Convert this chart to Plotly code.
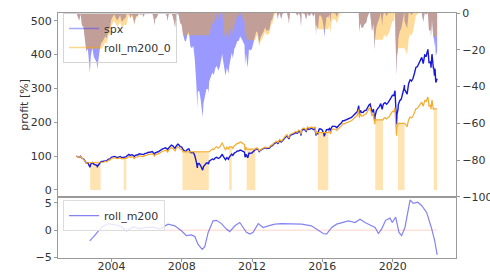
import plotly.graph_objects as go

# ---------------- data ----------------
dates = [
    "2002-01-02","2002-01-28","2002-02-28","2002-03-28","2002-04-28","2002-05-28","2002-06-28","2002-07-28","2002-08-28","2002-09-28","2002-10-09","2002-10-28","2002-11-28","2002-12-28",
    "2003-01-28","2003-02-28","2003-03-11","2003-03-28","2003-04-28","2003-05-18","2003-05-28","2003-06-28","2003-07-28","2003-08-28","2003-09-28","2003-10-28","2003-11-28","2003-12-28",
    "2004-01-28","2004-02-28","2004-03-28","2004-04-28","2004-05-28","2004-06-28","2004-07-28","2004-08-28","2004-09-12","2004-09-28","2004-10-28","2004-11-03","2004-11-28","2004-12-28",
    "2005-01-28","2005-02-28","2005-03-28","2005-04-20","2005-04-28","2005-05-28","2005-06-28","2005-07-28","2005-08-28","2005-09-28","2005-10-28","2005-11-28","2005-12-28",
    "2006-01-28","2006-02-28","2006-03-28","2006-04-28","2006-05-28","2006-06-13","2006-06-28","2006-07-28","2006-08-28","2006-09-28","2006-10-28","2006-11-28","2006-12-28",
    "2007-01-28","2007-02-28","2007-03-14","2007-03-28","2007-04-28","2007-05-28","2007-06-28","2007-07-28","2007-08-15","2007-08-28","2007-09-28","2007-10-09","2007-10-28","2007-11-28","2007-12-28",
    "2008-01-15","2008-01-28","2008-02-28","2008-03-28","2008-04-28","2008-05-28","2008-06-28","2008-07-28","2008-08-28","2008-09-28","2008-10-28","2008-11-20","2008-11-28","2008-12-28",
    "2009-01-28","2009-02-28","2009-03-09","2009-03-28","2009-04-28","2009-05-28","2009-06-28","2009-07-10","2009-07-24","2009-07-28","2009-08-28","2009-09-28","2009-10-28","2009-11-28","2009-12-28",
    "2010-01-28","2010-02-28","2010-03-28","2010-04-23","2010-04-28","2010-05-28","2010-06-28","2010-07-28","2010-08-28","2010-09-12","2010-09-28","2010-10-28","2010-11-05","2010-11-28","2010-12-28",
    "2011-01-28","2011-02-28","2011-03-28","2011-04-28","2011-05-28","2011-06-28","2011-07-28","2011-08-08","2011-08-28","2011-09-12","2011-09-28","2011-10-03","2011-10-28","2011-11-28","2011-12-28",
    "2012-01-28","2012-02-28","2012-03-08","2012-03-28","2012-04-28","2012-05-28","2012-06-28","2012-07-28","2012-08-28","2012-09-28","2012-10-28","2012-11-28","2012-12-28",
    "2013-01-28","2013-02-28","2013-03-28","2013-04-28","2013-05-28","2013-06-24","2013-06-28","2013-07-28","2013-08-28","2013-09-28","2013-10-28","2013-11-28","2013-12-28",
    "2014-01-28","2014-02-03","2014-02-28","2014-03-28","2014-04-28","2014-05-28","2014-06-28","2014-07-28","2014-08-28","2014-09-28","2014-10-15","2014-10-28","2014-11-28","2014-12-28",
    "2015-01-28","2015-02-28","2015-03-28","2015-04-28","2015-05-28","2015-06-28","2015-07-28","2015-08-25","2015-08-28","2015-09-28","2015-10-28","2015-11-28","2015-12-28",
    "2016-01-28","2016-02-11","2016-02-28","2016-03-28","2016-04-28","2016-05-04","2016-05-28","2016-06-27","2016-06-30","2016-07-28","2016-08-28","2016-09-28","2016-10-28","2016-11-28","2016-12-28",
    "2017-01-28","2017-02-28","2017-03-28","2017-04-28","2017-05-28","2017-06-28","2017-07-28","2017-08-28","2017-09-28","2017-10-28","2017-11-28","2017-12-28",
    "2018-01-26","2018-02-08","2018-02-28","2018-03-28","2018-04-28","2018-05-28","2018-06-28","2018-07-28","2018-08-28","2018-09-20","2018-10-29","2018-11-28","2018-12-24","2018-12-31",
    "2019-01-28","2019-02-28","2019-03-28","2019-04-28","2019-05-28","2019-06-14","2019-06-28","2019-07-28","2019-08-28","2019-09-28","2019-10-28","2019-11-28","2019-12-28",
    "2020-01-28","2020-02-19","2020-02-28","2020-03-23","2020-03-31","2020-04-21","2020-04-28","2020-05-28","2020-06-28","2020-07-28","2020-08-28","2020-09-02","2020-09-04","2020-09-28","2020-10-28","2020-11-28","2020-12-28",
    "2021-01-28","2021-02-28","2021-03-28","2021-04-28","2021-05-28","2021-06-28","2021-07-28","2021-08-28","2021-09-28","2021-10-28","2021-11-28","2021-12-28",
    "2022-01-03","2022-01-27","2022-02-28","2022-03-08","2022-03-29","2022-04-28","2022-05-03","2022-05-20","2022-05-31","2022-06-16","2022-06-30","2022-07-14",
]

spx = [
    100.0,97.9,95.9,99.4,93.2,92.5,85.8,79.0,80.5,70.6,67.3,76.7,81.1,76.3,
    74.2,72.9,69.3,73.5,79.5,82.0,83.5,84.5,85.8,87.3,86.3,91.1,91.7,96.4,
    98.0,99.2,97.6,95.9,97.1,98.9,95.5,95.7,97.0,96.6,97.9,99.0,101.7,105.0,
    102.3,104.3,102.3,98.6,100.3,103.3,103.2,106.9,105.7,106.5,104.6,108.2,108.1,
    110.9,111.0,112.2,113.6,110.1,106.0,110.1,110.7,113.0,115.8,119.4,121.4,122.9,
    124.6,121.9,119.0,123.1,128.4,132.7,130.2,126.1,122.1,127.7,132.3,135.6,134.2,128.3,127.2,
    119.6,119.5,115.3,114.6,120.1,121.3,110.9,109.8,111.2,101.0,84.0,65.2,77.6,78.2,
    71.6,63.7,58.7,69.2,75.6,79.6,79.6,76.5,85.0,85.5,88.5,91.6,89.8,95.0,96.6,
    93.1,95.7,101.3,105.5,102.9,94.4,89.3,95.5,90.9,96.2,98.9,102.5,106.2,102.3,109.0,
    111.4,115.0,114.9,118.2,116.6,114.5,112.0,97.0,105.6,100.7,98.0,95.2,108.6,108.1,109.0,
    113.7,118.4,118.4,122.0,121.1,113.5,118.0,119.5,121.9,124.9,122.4,122.7,123.6,
    129.8,131.3,136.0,138.5,141.3,136.3,139.2,146.1,141.5,145.8,152.3,156.5,160.1,
    154.5,150.9,161.1,162.2,163.3,166.7,169.8,167.3,173.6,170.9,161.0,174.9,179.2,178.4,
    172.9,182.4,179.2,180.8,182.6,178.8,182.3,161.0,170.9,166.4,180.2,180.2,177.1,
    168.1,158.3,167.4,178.5,178.9,177.7,181.7,173.3,181.9,188.4,188.1,187.9,184.2,190.6,194.0,
    197.5,204.9,204.8,206.6,209.0,210.0,214.0,214.2,218.3,223.1,229.5,231.7,
    249.0,223.6,235.2,228.9,229.5,234.4,235.5,244.0,251.5,254.0,228.9,239.2,203.7,217.2,
    234.3,241.2,245.6,255.3,238.5,250.2,254.9,258.2,253.6,258.0,263.3,272.2,280.0,
    279.5,293.4,256.0,193.8,224.0,237.2,252.3,263.8,268.6,283.4,303.3,310.2,297.0,291.4,283.4,313.9,325.5,
    321.8,330.2,344.3,362.3,364.3,372.4,380.8,391.9,373.3,399.0,395.8,413.0,
    415.7,375.0,379.0,361.4,401.3,358.1,362.6,338.0,358.1,317.8,328.0,328.4,
]

strat = [
    100.0,97.9,95.9,99.4,93.2,92.5,85.8,79.0,80.5,80.5,80.5,80.5,80.5,80.5,
    80.5,80.5,80.5,80.5,80.5,80.5,80.5,81.5,82.7,84.2,83.2,87.8,88.4,92.9,
    94.5,95.6,94.1,92.4,93.6,95.3,92.1,92.3,93.5,93.5,93.5,93.5,96.0,99.1,
    96.6,98.5,96.6,93.1,94.7,97.5,97.4,100.9,99.8,100.5,98.7,102.1,102.0,
    104.7,104.8,105.9,107.2,103.9,100.1,103.9,104.5,106.7,109.3,112.7,114.6,116.0,
    117.6,115.1,112.3,116.2,121.2,125.3,122.9,119.0,115.3,120.5,124.9,128.0,126.7,121.1,120.1,
    112.5,112.5,112.5,112.5,112.5,112.5,112.5,112.5,112.5,112.5,112.5,112.5,112.5,112.5,
    112.5,112.5,112.5,112.5,112.5,112.5,112.5,112.5,112.5,113.2,117.2,121.3,118.9,125.8,127.9,
    123.3,126.7,134.1,139.7,136.2,125.0,118.2,126.4,120.4,127.4,127.4,127.4,127.4,122.8,130.8,
    133.7,138.0,137.9,141.8,139.9,137.4,134.4,116.4,126.7,120.8,120.8,120.8,120.8,120.8,120.8,
    120.8,120.8,120.8,124.4,123.5,115.8,120.4,121.9,124.3,127.4,124.8,125.2,126.1,
    132.4,133.9,138.7,141.3,144.1,139.0,142.0,149.0,144.3,148.7,155.3,159.6,163.3,
    157.6,153.9,164.3,165.4,166.6,170.0,173.2,170.6,177.1,174.3,164.2,178.4,182.8,182.0,
    176.4,186.0,182.8,184.4,186.3,182.4,185.9,164.2,174.3,169.7,169.7,169.7,169.7,
    169.7,169.7,169.7,169.7,169.7,169.7,173.5,165.5,173.7,179.9,179.6,179.4,175.9,182.0,185.3,
    188.6,195.7,195.6,197.3,199.6,200.6,204.4,204.6,208.5,213.1,219.2,221.3,
    237.8,213.5,224.6,218.6,219.2,223.9,224.9,233.0,240.2,242.6,218.6,228.4,194.5,207.4,
    207.4,207.4,207.4,207.4,207.4,207.4,211.3,214.0,210.2,213.9,218.3,225.7,232.1,
    231.7,243.2,212.2,160.7,185.7,196.6,196.6,196.6,196.6,196.6,196.6,196.6,196.6,192.9,187.6,207.8,215.5,
    213.0,218.6,227.9,239.8,241.2,246.5,252.1,259.4,247.1,264.1,262.0,273.4,
    275.2,247.6,250.9,239.0,265.7,237.1,240.0,240.0,240.0,240.0,240.0,240.0,
]

dd_spx = [
    0,-2.1,-4.1,-0.6,-6.8,-7.5,-14.2,-21.0,-19.5,-29.4,-32.7,-23.3,-18.9,-23.7,
    -25.8,-27.1,-30.7,-26.5,-20.5,-18.0,-16.5,-15.5,-14.2,-12.7,-13.7,-8.9,-8.3,-3.6,
    -2.0,-0.8,-2.4,-4.1,-2.9,-1.1,-4.5,-4.3,-3.0,-3.4,-2.1,-1.0,0,0,
    -2.6,-0.7,-2.6,-6.1,-4.5,-1.6,-1.7,0,-1.1,-0.4,-2.2,0,-0.1,
    0,0,0,0,-3.1,-6.7,-3.1,-2.6,-0.5,0,0,0,0,
    0,-2.2,-4.5,-1.2,0,0,-1.9,-5.0,-8.0,-3.8,-0.3,0,-1.0,-5.4,-6.2,
    -11.8,-11.9,-15.0,-15.5,-11.4,-10.5,-18.2,-19.0,-18.0,-25.5,-38.1,-51.9,-42.8,-42.3,
    -47.2,-53.0,-56.7,-49.0,-44.2,-41.3,-41.3,-43.6,-37.3,-36.9,-34.7,-32.4,-33.8,-29.9,-28.8,
    -31.3,-29.4,-25.3,-22.2,-24.1,-30.4,-34.1,-29.6,-33.0,-29.1,-27.1,-24.4,-21.7,-24.6,-19.6,
    -17.8,-15.2,-15.3,-12.8,-14.0,-15.6,-17.4,-28.5,-22.1,-25.7,-27.7,-29.8,-19.9,-20.3,-19.6,
    -16.2,-12.7,-12.7,-10.0,-10.7,-16.3,-13.0,-11.9,-10.1,-7.9,-9.7,-9.5,-8.8,
    -4.3,-3.2,0,0,0,-3.5,-1.5,0,-3.2,-0.2,0,0,0,
    -3.5,-5.8,0,0,0,0,0,-1.5,0,-1.6,-7.3,0,0,-0.4,
    -3.5,0,-1.8,-0.9,0,-2.1,-0.2,-11.8,-6.4,-8.9,-1.3,-1.3,-3.0,
    -7.9,-13.3,-8.3,-2.2,-2.0,-2.7,-0.5,-5.1,-0.4,0,-0.2,-0.3,-2.2,0,0,
    0,0,-0.1,0,0,0,0,0,0,0,0,0,
    0,-10.2,-5.5,-8.1,-7.8,-5.9,-5.4,-2.0,0,0,-9.9,-5.8,-19.8,-14.5,
    -7.8,-5.0,-3.3,0,-6.6,-2.0,-0.2,0,-1.8,-0.1,0,0,0,
    -0.2,0,-12.7,-33.9,-23.7,-19.2,-14.0,-10.1,-8.5,-3.4,0,0,-4.3,-6.1,-8.6,0,0,
    -1.1,0,0,0,0,0,0,0,-4.7,0,-0.8,0,
    0,-9.8,-8.8,-13.1,-3.5,-13.9,-12.8,-18.7,-13.9,-23.6,-21.1,-21.0,
]

dd_strat = [
    0,-2.1,-4.1,-0.6,-6.8,-7.5,-14.2,-21.0,-19.5,-19.5,-19.5,-19.5,-19.5,-19.5,
    -19.5,-19.5,-19.5,-19.5,-19.5,-19.5,-19.5,-18.5,-17.3,-15.8,-16.8,-12.2,-11.6,-7.1,
    -5.5,-4.4,-5.9,-7.6,-6.4,-4.7,-7.9,-7.7,-6.5,-6.5,-6.5,-6.5,-4.0,-0.9,
    -3.4,-1.5,-3.4,-6.9,-5.3,-2.5,-2.6,0,-1.1,-0.4,-2.2,0,-0.1,
    0,0,0,0,-3.1,-6.6,-3.1,-2.5,-0.5,0,0,0,0,
    0,-2.2,-4.5,-1.2,0,0,-1.9,-5.0,-8.0,-3.8,-0.3,0,-1.0,-5.4,-6.2,
    -12.1,-12.1,-12.1,-12.1,-12.1,-12.1,-12.1,-12.1,-12.1,-12.1,-12.1,-12.1,-12.1,-12.1,
    -12.1,-12.1,-12.1,-12.1,-12.1,-12.1,-12.1,-12.1,-12.1,-11.6,-8.4,-5.2,-7.1,-1.7,-0.1,
    -3.7,-1.0,0,0,-2.5,-10.5,-15.4,-9.5,-13.8,-8.8,-8.8,-8.8,-8.8,-12.1,-6.4,
    -4.3,-1.2,-1.3,0,-1.3,-3.1,-5.2,-17.9,-10.6,-14.8,-14.8,-14.8,-14.8,-14.8,-14.8,
    -14.8,-14.8,-14.8,-12.3,-12.9,-18.3,-15.1,-14.0,-12.3,-10.2,-12.0,-11.7,-11.1,
    -6.6,-5.6,-2.2,-0.4,0,-3.5,-1.5,0,-3.2,-0.2,0,0,0,
    -3.5,-5.8,0,0,0,0,0,-1.5,0,-1.6,-7.3,0,0,-0.4,
    -3.5,0,-1.7,-0.9,0,-2.1,-0.2,-11.9,-6.4,-8.9,-8.9,-8.9,-8.9,
    -8.9,-8.9,-8.9,-8.9,-8.9,-8.9,-6.9,-11.2,-6.8,-3.4,-3.6,-3.7,-5.6,-2.3,-0.5,
    0,0,-0.1,0,0,0,0,0,0,0,0,0,
    0,-10.2,-5.5,-8.1,-7.8,-5.9,-5.4,-2.0,0,0,-9.9,-5.8,-19.8,-14.5,
    -14.5,-14.5,-14.5,-14.5,-14.5,-14.5,-12.9,-11.8,-13.4,-11.8,-10.0,-7.0,-4.3,
    -4.5,0,-12.7,-33.9,-23.6,-19.2,-19.2,-19.2,-19.2,-19.2,-19.2,-19.2,-19.2,-20.7,-22.9,-14.6,-11.4,
    -12.4,-10.1,-6.3,-1.4,-0.8,0,0,0,-4.7,0,-0.8,0,
    0,-10.0,-8.8,-13.2,-3.5,-13.8,-12.8,-12.8,-12.8,-12.8,-12.8,-12.8,
]

# periods in which roll_m200_0 is out of the market (orange bars)
out_start = ["2002-10-15","2004-09-12","2008-01-15","2010-09-12","2011-09-12","2015-10-01","2019-01-04","2020-04-21","2022-05-03"]
out_end   = ["2003-05-20","2004-11-03","2009-07-15","2010-11-05","2012-03-08","2016-05-04","2019-06-14","2020-09-04","2022-07-14"]

# lower panel indicator
ind_dates = [
    "2002-10-05","2003-01-15","2003-06-03","2003-10-20","2004-03-07","2004-06-21","2004-11-06","2005-03-25","2005-08-11","2005-12-28",
    "2006-06-18","2006-10-01","2007-03-22","2007-08-08","2007-12-24","2008-04-05","2008-07-19","2008-09-27","2008-12-05","2009-02-28",
    "2009-04-23","2009-07-02","2009-10-12","2009-12-20","2010-04-05","2010-07-16","2010-09-24","2011-01-08","2011-04-20","2011-06-28",
    "2011-09-06","2011-11-14","2012-01-23","2012-05-08","2012-08-18","2012-12-02","2013-04-20","2013-09-06","2014-04-01","2014-10-27",
    "2015-05-19","2015-10-09","2016-01-19","2016-03-29","2016-07-13","2016-10-23","2017-02-06","2017-06-25","2017-11-10","2018-02-21",
    "2018-06-06","2018-09-16","2019-01-01","2019-03-11","2019-05-16","2019-08-08","2019-11-07","2019-12-24","2020-03-04","2020-05-12",
    "2020-07-06","2020-09-13","2020-12-28","2021-03-08","2021-06-03","2021-08-26","2021-12-09","2022-03-15","2022-05-25","2022-07-14",
]
ind_vals = [
    -1.95,-1.0,0.5,1.2,1.0,0.8,-0.1,0.6,0.3,0.5,
    0.5,0.2,1.1,0.8,-0.1,-1.0,-0.85,-1.15,-2.6,-3.5,
    -3.0,-0.4,1.7,1.8,1.2,0.2,-0.25,0.8,1.4,0.5,
    -0.4,-0.7,-0.4,1.2,0.5,0.8,1.1,1.2,1.1,1.1,
    0.8,0.0,-0.6,-0.7,0.5,1.1,1.4,1.7,1.4,2.0,
    1.4,1.0,0.5,-0.6,0.2,1.8,2.2,1.4,2.4,-0.4,
    -1.0,0.5,5.5,4.9,5.1,4.5,3.2,0.5,-1.95,-4.5,
]

year_ticks = ["2004", "2008", "2012", "2016", "2020"]
left_ticks = [0, 100, 200, 300, 400, 500]
right_ticks = [0, -20, -40, -60, -80, -100]
low_ticks = [-5, 0, 5]

assert len(dates) == len(spx) == len(strat) == len(dd_spx) == len(dd_strat)
assert len(ind_dates) == len(ind_vals)

# ---------------- figure ----------------
FONT = "DejaVu Sans"
TXT = "#333333"
SPINE = "#9a9a9a"

fig = go.Figure()

# out-of-market bars: from 0 up to the (flat) strategy value
for s, e in zip(out_start, out_end):
    lvl = next(v for d, v in zip(dates, strat) if d >= s)
    fig.add_trace(go.Scatter(
        x=[s, s, e, e, s], y=[0, lvl, lvl, 0, 0], mode="lines", fill="toself",
        fillcolor="rgba(255,165,0,0.30)", line=dict(width=0),
        hoverinfo="skip", showlegend=False, xaxis="x", yaxis="y"))

fig.add_trace(go.Scatter(x=dates, y=spx, mode="lines", name="spx",
                         line=dict(color="rgb(25,25,215)", width=1.4),
                         showlegend=False, xaxis="x", yaxis="y"))
fig.add_trace(go.Scatter(x=dates, y=strat, mode="lines", name="roll_m200_0",
                         line=dict(color="rgb(245,170,45)", width=1.2),
                         showlegend=False, xaxis="x", yaxis="y"))

# legend entries (top panel)
fig.add_trace(go.Scatter(x=[None], y=[None], mode="lines", name="spx",
                         line=dict(color="rgba(60,60,255,0.45)", width=1.5),
                         legend="legend", xaxis="x", yaxis="y"))
fig.add_trace(go.Scatter(x=[None], y=[None], mode="lines", name="roll_m200_0",
                         line=dict(color="rgba(255,165,0,0.45)", width=1.5),
                         legend="legend", xaxis="x", yaxis="y"))

# drawdowns on the right axis
fig.add_trace(go.Scatter(x=dates, y=dd_spx, mode="lines", fill="tozeroy",
                         fillcolor="rgba(0,0,255,0.40)", line=dict(width=0),
                         showlegend=False, hoverinfo="skip", xaxis="x", yaxis="y2"))
fig.add_trace(go.Scatter(x=dates, y=dd_strat, mode="lines", fill="tozeroy",
                         fillcolor="rgba(255,165,0,0.40)", line=dict(width=0),
                         showlegend=False, hoverinfo="skip", xaxis="x", yaxis="y2"))

# lower panel
fig.add_trace(go.Scatter(x=[dates[0], dates[-1]], y=[0, 0], mode="lines",
                         line=dict(color="rgba(255,110,80,0.30)", width=1),
                         showlegend=False, hoverinfo="skip", xaxis="x2", yaxis="y3"))
fig.add_trace(go.Scatter(x=ind_dates, y=ind_vals, mode="lines", name="roll_m200",
                         line=dict(color="rgba(90,90,240,0.75)", width=1.2),
                         legend="legend2", xaxis="x2", yaxis="y3"))

xr = ["2000-12-15", "2023-08-10"]
tickv = [y + "-01-01" for y in year_ticks]

axis_common = dict(showgrid=False, zeroline=False, showline=True, linecolor=SPINE,
                   linewidth=1, tickcolor=SPINE, ticklen=3, ticks="outside",
                   automargin=False,
                   tickfont=dict(family=FONT, size=11, color=TXT))

fig.update_layout(
    width=490, height=273,
    margin=dict(l=58, r=34, t=13, b=15, autoexpand=False),
    paper_bgcolor="white", plot_bgcolor="white",
    font=dict(family=FONT, size=11, color=TXT),
    xaxis=dict(axis_common, domain=[0, 1], anchor="y", type="date", range=xr,
               tickvals=tickv, showticklabels=False, ticks="", mirror=True),
    xaxis2=dict(axis_common, domain=[0, 1], anchor="y3", type="date", range=xr,
                tickvals=tickv, ticktext=year_ticks, mirror=True,
                ticklabelstandoff=-5),
    yaxis=dict(axis_common, domain=[0.25, 1], anchor="x", range=[-20, 523],
               tickvals=left_ticks),
    yaxis2=dict(axis_common, overlaying="y", side="right", anchor="x",
                range=[-100, 0], tickvals=right_ticks),
    yaxis3=dict(axis_common, domain=[0, 0.25], anchor="x2", range=[-5.07, 6.1],
                tickvals=low_ticks, mirror=True),
    legend=dict(x=0.0126, y=1.0, xanchor="left", yanchor="top",
                bgcolor="rgba(255,255,255,0)", bordercolor="#d5d5d5", borderwidth=1,
                font=dict(family=FONT, size=11, color=TXT)),
    legend2=dict(x=0.0126, y=0.236, xanchor="left", yanchor="top",
                 bgcolor="rgba(255,255,255,0.8)", bordercolor="#dddddd", borderwidth=1,
                 font=dict(family=FONT, size=11, color=TXT)),
    annotations=[dict(text="profit [%]", x=-0.083, y=0.625, xref="paper", yref="paper",
                      xanchor="center", yanchor="middle",
                      textangle=-90, showarrow=False,
                      font=dict(family=FONT, size=11, color=TXT))],
    showlegend=True,
)

fig.write_html("out.html",
               config={"displayModeBar": False},
               post_script="document.body.style.margin='0';document.body.style.padding='0';")
